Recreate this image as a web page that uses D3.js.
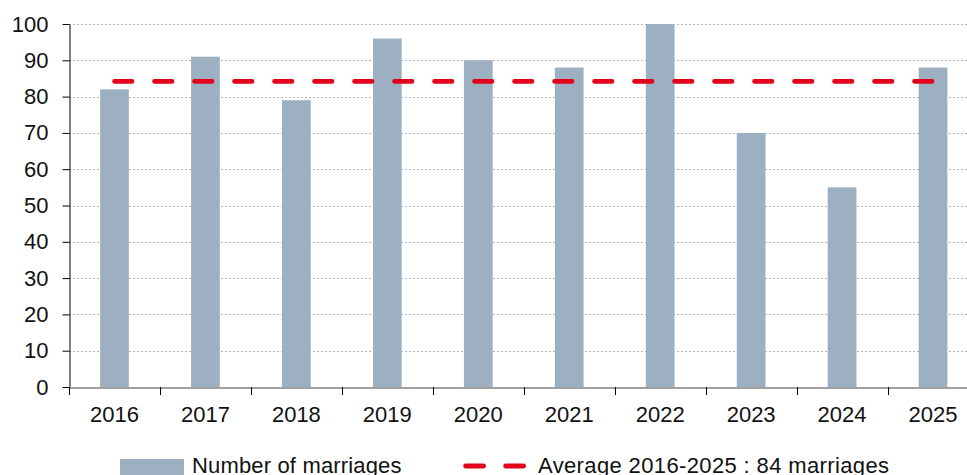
<!DOCTYPE html>
<html>
<head>
<meta charset="utf-8">
<script src="https://cdnjs.cloudflare.com/ajax/libs/d3/7.8.5/d3.min.js"></script>
<style>
  body { margin: 0; background: #fff; overflow: hidden; }
  svg { display: block; font-family: "Liberation Sans", Arial, sans-serif; }
</style>
</head>
<body>
<div id="chart"></div>
<script>
const years = ["2016", "2017", "2018", "2019", "2020", "2021", "2022", "2023", "2024", "2025"];
const marriages = [82, 91, 79, 96, 90, 88, 100, 70, 55, 88];
const average = 84.2;
const yTicks = [0, 10, 20, 30, 40, 50, 60, 70, 80, 90, 100];
const legendLabels = ["Number of marriages", "Average 2016-2025 : 84 marriages"];

const width = 967, height = 475;
// the plot runs a little past the right edge, as in the original
const plot = { left: 69, right: 978.5, top: 24, bottom: 387 };

const svg = d3.select("#chart").append("svg")
  .attr("width", width)
  .attr("height", height);

const x = d3.scaleBand()
  .domain(years)
  .range([plot.left, plot.right])
  .paddingInner(0.684)
  .paddingOuter(0.342);

const xOuter = d3.scaleBand()
  .domain(years)
  .range([plot.left, plot.right]);

const y = d3.scaleLinear()
  .domain([0, 100])
  .range([plot.bottom, plot.top]);

// grid lines
svg.append("g")
  .selectAll("line")
  .data(yTicks.filter(d => d > 0))
  .join("line")
  .attr("x1", plot.left)
  .attr("x2", width)
  .attr("y1", d => Math.round(y(d)) + 0.5)
  .attr("y2", d => Math.round(y(d)) + 0.5)
  .attr("stroke", "#b4b4b4")
  .attr("stroke-width", 1)
  .attr("stroke-dasharray", "2,2");

// bars
svg.append("g")
  .selectAll("rect")
  .data(years)
  .join("rect")
  .attr("x", d => x(d))
  .attr("width", x.bandwidth())
  .attr("y", (d, i) => y(marriages[i]))
  .attr("height", (d, i) => y(0) - y(marriages[i]))
  .attr("fill", "#9db0c1");

// average line
const firstC = xOuter(years[0]) + xOuter.bandwidth() / 2;
const lastC = xOuter(years[years.length - 1]) + xOuter.bandwidth() / 2;
svg.append("line")
  .attr("x1", firstC)
  .attr("x2", lastC)
  .attr("y1", y(average))
  .attr("y2", y(average))
  .attr("stroke", "#e3001b")
  .attr("stroke-width", 4.6)
  .attr("stroke-linecap", "round")
  .attr("stroke-dasharray", "17.6,22.4");

// y axis
const yAxis = svg.append("g")
  .attr("transform", `translate(${plot.left + 0.5},0)`)
  .call(d3.axisLeft(y).tickValues(yTicks).tickSize(7).tickSizeOuter(0).tickPadding(14));
yAxis.select(".domain").attr("stroke", "#000");
yAxis.selectAll(".tick line").attr("stroke", "#000");
yAxis.selectAll("text")
  .attr("font-size", 22)
  .attr("fill", "#111")
  .attr("font-family", "Liberation Sans, Arial, sans-serif");

// x axis
const xAxis = svg.append("g")
  .attr("transform", `translate(0,${Math.round(y(0)) + 0.5})`)
  .call(d3.axisBottom(xOuter).tickSize(0).tickSizeOuter(0).tickPadding(19));
xAxis.select(".domain").attr("stroke", "#808080").attr("stroke-width", 1.5);
xAxis.selectAll("text")
  .attr("font-size", 22)
  .attr("fill", "#111")
  .attr("font-family", "Liberation Sans, Arial, sans-serif");

// x ticks at category boundaries
svg.append("g")
  .selectAll("line")
  .data(years)
  .join("line")
  .attr("x1", d => Math.round(xOuter(d)) + 0.5)
  .attr("x2", d => Math.round(xOuter(d)) + 0.5)
  .attr("y1", y(0))
  .attr("y2", y(0) + 8)
  .attr("stroke", "#000");

// legend
const lg = svg.append("g").attr("transform", "translate(0,466)");
lg.append("rect")
  .attr("x", 120).attr("y", -7)
  .attr("width", 64).attr("height", 20)
  .attr("fill", "#9db0c1");
lg.append("text")
  .attr("x", 192).attr("y", 6.5)
  .attr("font-size", 22)
  .attr("fill", "#111")
  .attr("textLength", 209.5)
  .attr("lengthAdjust", "spacing")
  .text(legendLabels[0]);
lg.append("line")
  .attr("x1", 465.6).attr("x2", 523.8)
  .attr("y1", 0).attr("y2", 0)
  .attr("stroke", "#e3001b")
  .attr("stroke-width", 4.8)
  .attr("stroke-linecap", "round")
  .attr("stroke-dasharray", "18,22");
lg.append("text")
  .attr("x", 538).attr("y", 6.5)
  .attr("font-size", 22)
  .attr("fill", "#111")
  .attr("textLength", 351)
  .attr("lengthAdjust", "spacing")
  .text(legendLabels[1]);
</script>
</body>
</html>
